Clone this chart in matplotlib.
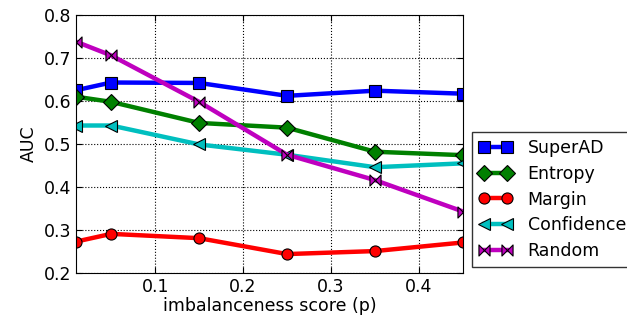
import numpy as np
import matplotlib.pyplot as plt
from matplotlib.path import Path

# imbalanceness score on x, AUC per method
p_vals = [0.01, 0.05, 0.15, 0.25, 0.35, 0.45]
superad = [0.625, 0.643, 0.642, 0.612, 0.624, 0.617]
entropy = [0.610, 0.598, 0.549, 0.538, 0.482, 0.474]
margin = [0.273, 0.291, 0.281, 0.244, 0.251, 0.271]
confidence = [0.543, 0.543, 0.499, 0.475, 0.446, 0.455]
random_sel = [0.738, 0.706, 0.598, 0.475, 0.416, 0.343]

# bowtie marker for the random baseline
bowtie = Path([(-1, -1), (-1, 1), (0, 0), (1, 1), (1, -1), (0, 0), (-1, -1)],
              [Path.MOVETO, Path.LINETO, Path.LINETO, Path.LINETO,
               Path.LINETO, Path.LINETO, Path.CLOSEPOLY])

series = [
    ("SuperAD", superad, "b", "s"),
    ("Entropy", entropy, "g", "D"),
    ("Margin", margin, "r", "o"),
    ("Confidence", confidence, "c", "<"),
    ("Random", random_sel, "m", bowtie),
]

plt.rcParams['font.family'] = 'DejaVu Sans'
fig = plt.figure(figsize=(6.27, 3.2), dpi=100)
ax = fig.add_axes([76/627, 47/320, 387/627, 258/320])

for name, vals, col, mk in series:
    ax.plot(p_vals, vals, color=col, marker=mk, lw=3.2, markersize=8,
            markeredgecolor='k', markeredgewidth=0.8, label=name)

ax.set_xlim(0.01, 0.45)
ax.set_ylim(0.2, 0.8)
ax.set_xticks([0.1, 0.2, 0.3, 0.4])
ax.set_yticks(np.arange(0.2, 0.81, 0.1))
ax.set_xticklabels(['0.1', '0.2', '0.3', '0.4'])
ax.set_yticklabels(['0.2', '0.3', '0.4', '0.5', '0.6', '0.7', '0.8'])
ax.tick_params(direction='in', top=True, right=True, labelsize=12.5, length=4)
ax.grid(True, color='k', linestyle=':', linewidth=0.8)
ax.set_xlabel('imbalanceness score (p)', fontsize=12.5, labelpad=1)
ax.set_ylabel('AUC', fontsize=12.5)

leg = fig.legend(loc='upper left', bbox_to_anchor=(472/627, 1 - 132/320),
                 borderaxespad=0, numpoints=2, fontsize=12.5, fancybox=False,
                 handlelength=1.9, handletextpad=0.9, labelspacing=0.45,
                 borderpad=0.4)
leg.get_frame().set_edgecolor('k')

fig.savefig('out.png', dpi=100)
